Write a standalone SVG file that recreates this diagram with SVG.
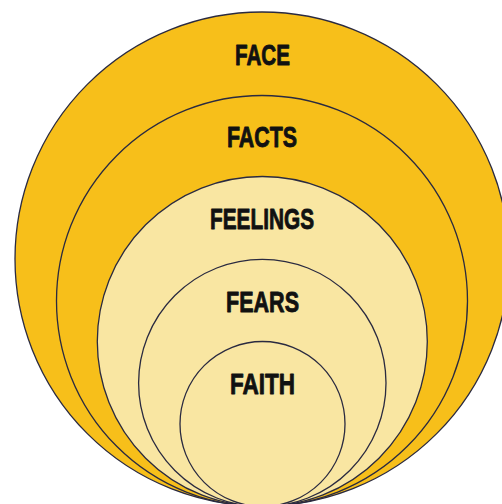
<svg xmlns="http://www.w3.org/2000/svg" width="502" height="504" viewBox="0 0 502 504">
<style>
.ring{stroke:#2a2a40;stroke-width:1.3}
.dark{fill:#F7BF1A}
.light{fill:#F9E6A2}
.lbl{font-family:"Liberation Sans",Arial,sans-serif;font-weight:bold;font-size:30px;fill:#111;stroke:#111;stroke-width:0.9;stroke-linejoin:round;text-anchor:middle}
</style>
<rect width="502" height="504" fill="#fff"/>
<g id="face"><circle class="ring dark" cx="262" cy="259" r="247"/><text class="lbl" x="262.5" y="65" textLength="55" lengthAdjust="spacingAndGlyphs">FACE</text></g>
<g id="facts"><circle class="ring dark" cx="262" cy="301" r="205.5"/><text class="lbl" x="262" y="147" textLength="70" lengthAdjust="spacingAndGlyphs">FACTS</text></g>
<g id="feelings"><circle class="ring light" cx="262.3" cy="341.5" r="165"/><text class="lbl" x="262" y="229" textLength="104" lengthAdjust="spacingAndGlyphs">FEELINGS</text></g>
<g id="fears"><circle class="ring light" cx="262.3" cy="383" r="123.7"/><text class="lbl" x="262.5" y="312" textLength="73" lengthAdjust="spacingAndGlyphs">FEARS</text></g>
<g id="faith"><circle class="ring light" cx="262.5" cy="424" r="82.5"/><text class="lbl" x="262.5" y="394" textLength="65" lengthAdjust="spacingAndGlyphs">FAITH</text></g>
</svg>
